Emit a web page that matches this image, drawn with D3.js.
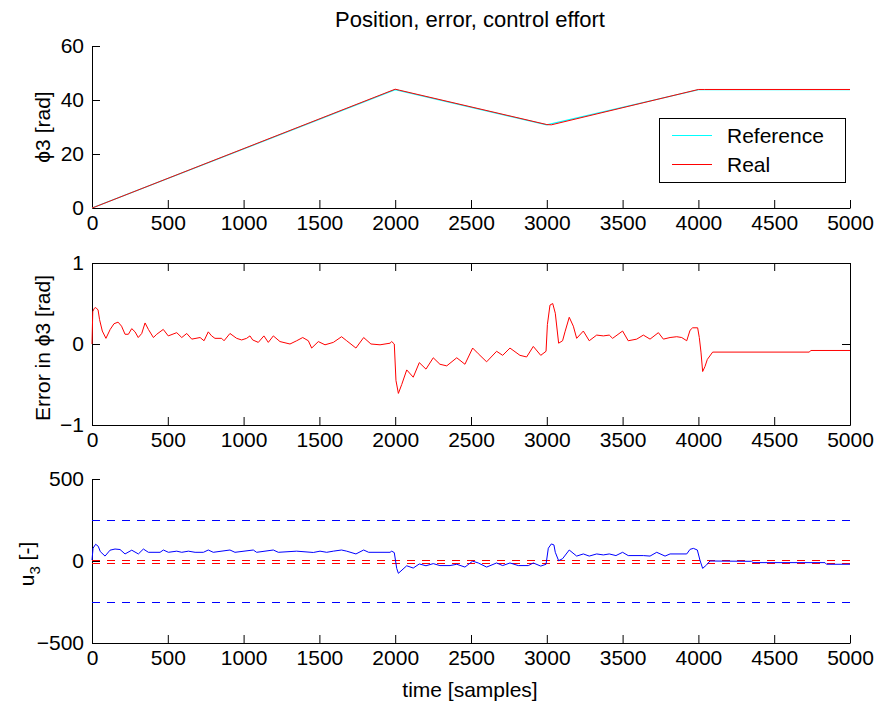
<!DOCTYPE html>
<html>
<head>
<meta charset="utf-8">
<script src="https://cdn.jsdelivr.net/npm/d3@7"></script>
<style>
  body { margin: 0; background: #fff; }
  svg { display: block; }
  text { font-family: "Liberation Sans", Arial, Helvetica, sans-serif; }
</style>
</head>
<body>
<svg id="chart" width="877" height="706"></svg>
<script>
// ---------------- DATA ----------------
const xTicks = [0, 500, 1000, 1500, 2000, 2500, 3000, 3500, 4000, 4500, 5000];
const posTicks = [0, 20, 40, 60];
const errTicks = [-1, 0, 1];
const uTicks = [-500, 0, 500];

// Position: reference trajectory and real position (breakpoints)
const refSamples  = [0, 2000, 3000, 4000, 5000];
const refValues   = [0, 43.8, 30.8, 43.8, 43.8];
const realSamples = [0, 20, 2000, 2030, 3000, 3030, 4000, 4040, 5000];
const realValues  = [0.0, 0.4, 44.0, 43.6, 30.9, 30.8, 43.9, 43.9, 43.9];

// Error in phi3
const errSamples = [0,5,15,25,40,50,68,92,120,145,172,195,218,240,262,284,305,328,350,372,405,427,470,503,559,592,625,658,713,739,767,789,811,855,871,910,954,987,1020,1042,1060,1097,1134,1163,1196,1240,1306,1350,1390,1427,1449,1493,1537,1592,1646,1680,1741,1792,1840,1900,1966,1977,1994,2005,2021,2043,2076,2119,2159,2203,2251,2295,2340,2406,2460,2511,2548,2603,2669,2709,2757,2823,2867,2911,2960,2995,3004,3021,3039,3056,3078,3104,3120,3148,3175,3197,3241,3280,3329,3373,3412,3434,3500,3537,3593,3637,3681,3736,3769,3813,3857,3890,3923,3945,3962,3995,4006,4017,4028,4043,4059,4094,4732,4741,5000];
const errValues  = [0,0.40,0.44,0.45,0.42,0.30,0.16,0.07,0.18,0.25,0.27,0.22,0.12,0.12,0.19,0.15,0.08,0.13,0.26,0.18,0.08,0.12,0.18,0.10,0.14,0.08,0.13,0.06,0.08,0.04,0.15,0.10,0.07,0.07,0.04,0.13,0.07,0.05,0.07,0.10,0.05,0.02,0.10,0.02,0.10,0.03,0.00,0.04,0.08,0.04,-0.05,0.03,-0.01,0.02,0.09,0.04,-0.05,0.08,0.00,-0.01,0.01,0.03,0.00,-0.45,-0.61,-0.50,-0.32,-0.41,-0.23,-0.31,-0.17,-0.25,-0.27,-0.17,-0.25,-0.05,-0.12,-0.22,-0.09,-0.14,-0.05,-0.14,-0.16,-0.03,-0.14,-0.09,0.24,0.48,0.50,0.38,0.01,0.04,0.15,0.33,0.22,0.07,0.16,0.04,0.11,0.10,0.11,0.07,0.16,0.04,0.06,0.11,0.06,0.14,0.06,0.08,0.09,0.08,0.04,0.17,0.20,0.20,0.08,-0.10,-0.34,-0.28,-0.19,-0.10,-0.10,-0.08,-0.08];

// Control effort u3
const uSamples = [0,7,24,41,55,86,119,152,185,218,262,306,339,372,449,471,504,559,592,636,680,735,767,800,910,943,1064,1086,1196,1229,1350,1460,1504,1548,1592,1646,1680,1741,1792,1825,1966,1977,1994,2010,2021,2076,2119,2159,2203,2251,2295,2362,2406,2460,2511,2548,2603,2669,2709,2757,2812,2878,2911,2960,2995,3010,3030,3047,3056,3078,3104,3148,3197,3241,3280,3329,3373,3412,3456,3500,3537,3637,3681,3725,3780,3813,3923,3945,3967,3993,4010,4028,4054,4076,4351,4360,4835,4845,5000];
const uValues  = [6,78,102,90,57,30,66,73,70,43,66,43,73,53,53,67,53,60,53,60,53,53,67,53,67,53,67,53,67,53,60,52,60,53,60,67,60,43,67,53,53,60,51,-45,-75,-29,-43,-18,-29,-16,-28,-28,-20,-37,-1,-12,-37,-12,-28,-12,-28,-28,-12,-31,-20,78,104,98,53,2,14,67,30,43,30,43,37,43,33,53,33,33,30,53,30,43,43,71,77,67,6,-45,-24,0,-2,-10,-10,-20,-20];

// Limit lines on u3
const uLimitOuter = [250, -250];
const uLimitInner = [6, -12];

const legendLabels = ["Reference", "Real"];
const titleText = "Position, error, control effort";
const xLabelText = "time [samples]";

// ---------------- DRAW ----------------
const svg = d3.select("#chart");
const FONT = 21;
const x = d3.scaleLinear().domain([0, 5000]).range([92, 850]);
const yPos = d3.scaleLinear().domain([0, 60]).range([208, 46]);
const yErr = d3.scaleLinear().domain([-1, 1]).range([425, 263]);
const yU   = d3.scaleLinear().domain([-500, 500]).range([643, 479]);

function styleAxis(g) {
  g.selectAll("path.domain").attr("stroke", "#000").attr("stroke-width", 1);
  g.selectAll(".tick line").attr("stroke", "#000").attr("stroke-width", 1);
  g.selectAll(".tick text").attr("fill", "#000").attr("font-size", FONT)
    .attr("font-family", "'Liberation Sans', Arial, Helvetica, sans-serif");
}

function axes(yScale, yTicks, y0, box) {
  const gx = svg.append("g").attr("transform", `translate(0,${y0})`)
    .call(d3.axisBottom(x).tickValues(xTicks).tickSizeInner(-8).tickSizeOuter(0).tickPadding(6).tickFormat(d3.format("d")));
  styleAxis(gx);
  gx.selectAll(".tick text").attr("dy", "0.78em");
  const gy = svg.append("g").attr("transform", `translate(${x(0)},0)`)
    .call(d3.axisLeft(yScale).tickValues(yTicks).tickSizeInner(-8).tickSizeOuter(0).tickPadding(8).tickFormat(d3.format("d")));
  styleAxis(gy);
  if (box) {
    const gt = svg.append("g").attr("transform", `translate(0,${yScale.range()[1]})`)
      .call(d3.axisTop(x).tickValues(xTicks).tickSizeInner(-8).tickSizeOuter(0).tickFormat(""));
    styleAxis(gt);
    const gr = svg.append("g").attr("transform", `translate(${x(5000)},0)`)
      .call(d3.axisRight(yScale).tickValues(yTicks).tickSizeInner(-8).tickSizeOuter(0).tickFormat(""));
    styleAxis(gr);
  }
}

// Title
svg.append("text").attr("x", 470).attr("y", 27).attr("text-anchor", "middle")
  .attr("font-size", 22).attr("fill", "#000").text(titleText);

// ---- Top: position ----
axes(yPos, posTicks, 208, false);
const lineRef = d3.line().x((d, i) => x(refSamples[i])).y(d => yPos(d));
svg.append("path").attr("d", lineRef(refValues)).attr("fill", "none")
  .attr("stroke", "#00ffff").attr("stroke-width", 1.2);
const lineReal = d3.line().x((d, i) => x(realSamples[i])).y(d => yPos(d));
svg.append("path").attr("d", lineReal(realValues)).attr("fill", "none")
  .attr("stroke", "#ff0000").attr("stroke-width", 1);

svg.append("text").attr("transform", `translate(50,127) rotate(-90)`).attr("text-anchor", "middle")
  .attr("font-size", FONT).attr("fill", "#000").text("ϕ3 [rad]");

// Legend
const lg = svg.append("g");
lg.append("rect").attr("x", 659.5).attr("y", 118.5).attr("width", 186).attr("height", 64)
  .attr("fill", "#fff").attr("stroke", "#000").attr("stroke-width", 1);
const legendColors = ["#00ffff", "#ff0000"];
legendLabels.forEach((lab, i) => {
  const ly = 135.5 + i * 29;
  lg.append("line").attr("x1", 672).attr("x2", 712).attr("y1", ly).attr("y2", ly)
    .attr("stroke", legendColors[i]).attr("stroke-width", 1.2);
  lg.append("text").attr("x", 727).attr("y", ly + 7.5).attr("font-size", FONT).attr("fill", "#000").text(lab);
});

// ---- Middle: error ----
axes(yErr, errTicks, 425, true);
const lineErr = d3.line().x((d, i) => x(errSamples[i])).y(d => yErr(d));
svg.append("path").attr("d", lineErr(errValues)).attr("fill", "none")
  .attr("stroke", "#ff0000").attr("stroke-width", 1);
svg.append("text").attr("transform", `translate(50,348) rotate(-90)`).attr("text-anchor", "middle")
  .attr("font-size", FONT).attr("fill", "#000").text("Error in ϕ3 [rad]");

// ---- Bottom: control effort ----
axes(yU, uTicks, 643, false);
uLimitOuter.forEach(v => {
  svg.append("line").attr("x1", x(0)).attr("x2", x(5000)).attr("y1", Math.round(yU(v)) + 0.5).attr("y2", Math.round(yU(v)) + 0.5)
    .attr("stroke", "#0000ff").attr("stroke-width", 1).attr("stroke-dasharray", "8,7");
});
uLimitInner.forEach(v => {
  svg.append("line").attr("x1", x(0)).attr("x2", x(5000)).attr("y1", Math.round(yU(v)) + 0.5).attr("y2", Math.round(yU(v)) + 0.5)
    .attr("stroke", "#ff0000").attr("stroke-width", 1).attr("stroke-dasharray", "8,7");
});
const lineU = d3.line().x((d, i) => x(uSamples[i])).y(d => yU(d));
svg.append("path").attr("d", lineU(uValues)).attr("fill", "none")
  .attr("stroke", "#0000ff").attr("stroke-width", 1);

const ul = svg.append("text").attr("transform", `translate(34,564) rotate(-90)`).attr("text-anchor", "middle")
  .attr("font-size", FONT).attr("fill", "#000");
ul.append("tspan").text("u");
ul.append("tspan").attr("font-size", 15).attr("dy", 6).text("3");
ul.append("tspan").attr("dy", -6).text(" [-]");

// x label
svg.append("text").attr("x", 470).attr("y", 697).attr("text-anchor", "middle")
  .attr("font-size", FONT).attr("fill", "#000").text(xLabelText);
</script>
</body>
</html>
